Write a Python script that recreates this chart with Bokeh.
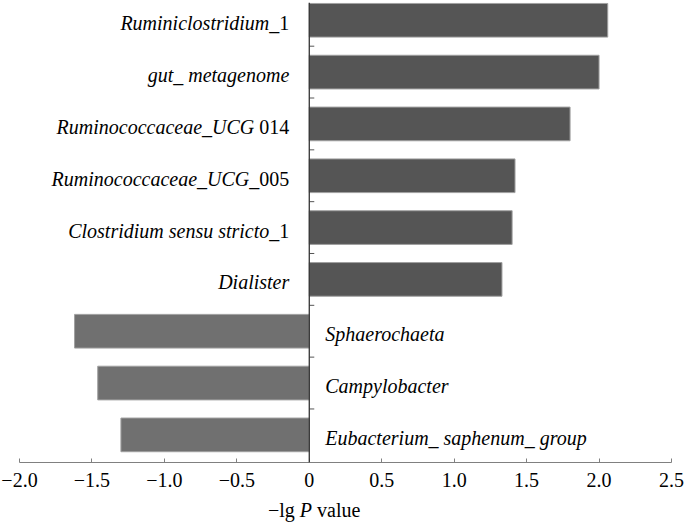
from bokeh.plotting import figure
from bokeh.layouts import column
from bokeh.models import (ColumnDataSource, Range1d, FixedTicker,
                          CustomJSTickFormatter, Span, Div)
from bokeh.core.properties import value
from bokeh.embed import file_html
from bokeh.resources import INLINE

# ---------------- data (top to bottom) ----------------
taxa_italic = ["Ruminiclostridium_", "gut_ metagenome", "Ruminococcaceae_UCG",
               "Ruminococcaceae_UCG_", "Clostridium sensu stricto_", "Dialister",
               "Sphaerochaeta", "Campylobacter", "Eubacterium_ saphenum_ group"]
taxa_upright = ["1", "", " 014", "005", "1", "", "", "", ""]
neg_lg_p = [2.06, 2.00, 1.80, 1.42, 1.40, 1.33, -1.62, -1.46, -1.30]
x_ticks = [-2.0, -1.5, -1.0, -0.5, 0.0, 0.5, 1.0, 1.5, 2.0, 2.5]
x_title_html = "\u2212lg <i>P</i> value"

FONT = "Liberation Serif, Times New Roman, serif"
FS = 20
POS_COLOR = "#555555"
NEG_COLOR = "#707070"
W, H_FIG, H_DIV = 684, 494, 18
BORDER_L, BORDER_R, BORDER_T, BORDER_B = 19, 13, 2, 32

# approximate Times advance widths (em) for offsets of mixed-style labels
def text_width(s):
    w = 0.0
    for ch in s:
        if ch.isdigit() or ch == "_":
            w += 0.5
        elif ch == " ":
            w += 0.25
        elif ch == "\u2212":
            w += 0.564
        elif ch in "ilt":
            w += 0.278
        elif ch in "PR":
            w += 0.611
        elif ch.isupper():
            w += 0.68
        else:
            w += 0.46
    return w * FS

n = len(neg_lg_p)
ys = [n - i - 0.5 for i in range(n)]
colors = [POS_COLOR if v > 0 else NEG_COLOR for v in neg_lg_p]

xr = Range1d(x_ticks[0], x_ticks[-1])
p = figure(width=W, height=H_FIG, output_backend="svg", toolbar_location=None,
           x_range=xr, y_range=Range1d(-0.033, 8.843),
           y_axis_location=None, min_border_left=BORDER_L, min_border_right=BORDER_R,
           min_border_top=BORDER_T, min_border_bottom=BORDER_B)
p.outline_line_color = None
p.xgrid.visible = False
p.ygrid.visible = False
p.background_fill_color = "white"
p.border_fill_color = "white"

bars = ColumnDataSource(dict(y=ys, v=neg_lg_p, c=colors))
p.hbar(y="y", left=0, right="v", height=0.65, source=bars,
       fill_color="c", line_color="#a0a0a0", line_width=1)

# vertical axis line at x = 0 with category boundary ticks
p.add_layout(Span(location=0, dimension="height", line_color="#333333", line_width=1.3))
bounds = list(range(1, n))
p.ray(x=[0] * len(bounds), y=bounds, length=5, angle=0, length_units="screen",
      line_color="#555555", line_width=1)

# category labels
GAP_L, GAP_R = 20, 16
pos_it = dict(x=[], y=[], t=[], o=[])
pos_up = dict(x=[], y=[], t=[], o=[])
neg_it = dict(x=[], y=[], t=[], o=[])
for yv, v, it, up in zip(ys, neg_lg_p, taxa_italic, taxa_upright):
    if v > 0:
        wu = text_width(up)
        pos_it["x"].append(0); pos_it["y"].append(yv); pos_it["t"].append(it)
        pos_it["o"].append(-GAP_L - wu)
        pos_up["x"].append(0); pos_up["y"].append(yv); pos_up["t"].append(up.strip())
        pos_up["o"].append(-GAP_L)
    else:
        neg_it["x"].append(0); neg_it["y"].append(yv); neg_it["t"].append(it)
        neg_it["o"].append(GAP_R)

common = dict(text_font=value(FONT), text_font_size=f"{FS}px", text_color="black",
              text_baseline="middle", y_offset=3)
p.text(x="x", y="y", text="t", x_offset="o", source=ColumnDataSource(pos_it),
       text_align="right", text_font_style="italic", **common)
p.text(x="x", y="y", text="t", x_offset="o", source=ColumnDataSource(pos_up),
       text_align="right", text_font_style="normal", **common)
p.text(x="x", y="y", text="t", x_offset="o", source=ColumnDataSource(neg_it),
       text_align="left", text_font_style="italic", **common)

# x axis
ax = p.xaxis[0]
ax.ticker = FixedTicker(ticks=x_ticks)
ax.formatter = CustomJSTickFormatter(code="""
    if (Math.abs(tick) < 1e-9) return '0';
    return (tick < 0 ? '\u2212' : '') + Math.abs(tick).toFixed(1);
""")
ax.major_tick_in = 4
ax.major_tick_out = 0
ax.minor_tick_line_color = None
ax.axis_line_color = "#808080"
ax.major_tick_line_color = "#808080"
ax.major_label_text_font = FONT
ax.major_label_text_font_size = f"{FS}px"
ax.major_label_text_color = "black"
ax.major_label_standoff = 10

# axis title (with italic P) centred under x = 0
frame_w = W - BORDER_L - BORDER_R
zero_px = BORDER_L + (0 - xr.start) / (xr.end - xr.start) * frame_w
title_w = text_width("\u2212lg P value")
div = Div(text=x_title_html, width=W, height=H_DIV,
          styles={"font-family": "'Liberation Serif', 'Times New Roman', serif",
                  "font-size": f"{FS}px", "color": "black",
                  "padding-left": f"{zero_px - title_w / 2:.0f}px",
                  "line-height": "22px", "white-space": "nowrap"})

layout = column(p, div, spacing=0)
open("out.html", "w").write(file_html(layout, INLINE))
